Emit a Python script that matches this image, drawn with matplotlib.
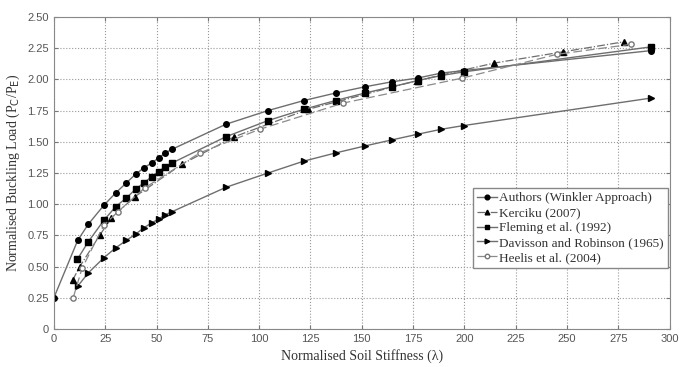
import matplotlib.pyplot as plt
from matplotlib.ticker import FixedLocator

# Authors (Winkler approach)
authors_x = [0, 11.6, 16.8, 24.3, 30.1, 35.3, 39.8, 43.8, 47.6, 51.0, 54.2, 57.6,
             83.8, 104.4, 121.8, 137.2, 151.5, 164.7, 177.2, 188.7, 199.8, 291]
authors_y = [0.25, 0.71, 0.84, 0.99, 1.09, 1.17, 1.24, 1.29, 1.33, 1.37, 1.41, 1.44,
             1.64, 1.75, 1.83, 1.89, 1.94, 1.98, 2.01, 2.05, 2.07, 2.23]

# Kerciku (2007)
kerciku_x = [9.1, 12.6, 22.3, 28.0, 39.5, 62.4, 87.9, 123.9, 177.0, 214.5, 248.0, 277.5]
kerciku_y = [0.39, 0.50, 0.75, 0.89, 1.06, 1.32, 1.54, 1.76, 1.99, 2.13, 2.22, 2.30]

# Fleming et al. (1992)
fleming_x = [11.5, 16.8, 24.3, 30.1, 35.3, 39.8, 43.8, 47.6, 51.0, 54.2, 57.6,
             83.8, 104.4, 121.8, 137.2, 151.5, 164.7, 177.2, 188.7, 199.8, 291]
fleming_y = [0.56, 0.70, 0.87, 0.98, 1.05, 1.12, 1.17, 1.22, 1.26, 1.30, 1.33,
             1.54, 1.67, 1.76, 1.83, 1.89, 1.94, 1.99, 2.03, 2.06, 2.26]

# Davisson and Robinson (1965)
davisson_x = [11.7, 16.8, 24.3, 30.1, 35.3, 39.8, 43.8, 47.6, 51.0, 54.2, 57.6,
              83.8, 104.4, 121.8, 137.2, 151.5, 164.7, 177.2, 188.7, 199.8, 291]
davisson_y = [0.345, 0.45, 0.57, 0.65, 0.71, 0.76, 0.81, 0.85, 0.88, 0.915, 0.94,
              1.135, 1.25, 1.345, 1.41, 1.466, 1.515, 1.56, 1.60, 1.63, 1.85]

# Heelis et al. (2004)
heelis_x = [9.4, 13.7, 24.3, 31.2, 44.2, 71.0, 100.3, 141.0, 199.0, 245.0, 281.0]
heelis_y = [0.25, 0.485, 0.83, 0.94, 1.13, 1.41, 1.60, 1.81, 2.01, 2.20, 2.28]

xticks = list(range(0, 301, 25))
yticks = [0, 0.25, 0.5, 0.75, 1.0, 1.25, 1.5, 1.75, 2.0, 2.25, 2.5]
ytick_labels = ['0', '0.25', '0.50', '0.75', '1.00', '1.25', '1.50', '1.75', '2.00', '2.25', '2.50']

line_col = '#6e6e6e'
serif = ['Liberation Serif', 'DejaVu Serif']
sans = ['Liberation Sans', 'DejaVu Sans']

fig = plt.figure(figsize=(6.82, 3.67), dpi=100)
ax = fig.add_axes([0.079, 0.1035, 0.903, 0.8505])

ax.plot(authors_x, authors_y, '-', color=line_col, lw=1.0, marker='o', ms=4,
        mfc='black', mec='black', label='Authors (Winkler Approach)')
ax.plot(kerciku_x, kerciku_y, '-.', color=line_col, lw=0.9, marker='^', ms=4,
        mfc='black', mec='black', label='Kerciku (2007)')
ax.plot(fleming_x, fleming_y, '-', color=line_col, lw=1.0, marker='s', ms=4,
        mfc='black', mec='black', label='Fleming et al. (1992)')
ax.plot(davisson_x, davisson_y, '-', color=line_col, lw=1.0, marker='>', ms=4,
        mfc='black', mec='black', label='Davisson and Robinson (1965)')
ax.plot(heelis_x, heelis_y, '--', dashes=(7, 3), color='#8a8a8a', lw=0.9, marker='o', ms=3.8,
        mfc='white', mec='#777777', label='Heelis et al. (2004)')

ax.set_xlim(0, 300)
ax.set_ylim(0, 2.5)
ax.xaxis.set_major_locator(FixedLocator(xticks))
ax.set_yticks(yticks)
ax.set_yticklabels(ytick_labels)
ax.grid(True, linestyle=':', color='#999999', lw=0.8)
ax.tick_params(direction='in', top=True, right=True, length=3, labelsize=8,
               labelcolor='#555555', color='#777777')
for lab in ax.get_xticklabels() + ax.get_yticklabels():
    lab.set_family(sans)
for sp in ax.spines.values():
    sp.set_color('#888888')

ax.set_xlabel('Normalised Soil Stiffness (\u03bb)', family=serif, fontsize=10, color='#333333')
ax.set_ylabel('Normalised Buckling Load (P$_{\\mathrm{C}}$/P$_{\\mathrm{E}}$)', family=serif,
              fontsize=10, color='#333333')

leg = ax.legend(loc='lower right', bbox_to_anchor=(0.997, 0.196), prop={'family': serif, 'size': 9.5},
                handlelength=1.5, handletextpad=0.2, labelspacing=0.2, borderpad=0.3,
                markerscale=0.85, fancybox=False, framealpha=1, edgecolor='#888888',
                borderaxespad=0)
for t in leg.get_texts():
    t.set_color('#333333')

fig.savefig('out.png', dpi=100)
